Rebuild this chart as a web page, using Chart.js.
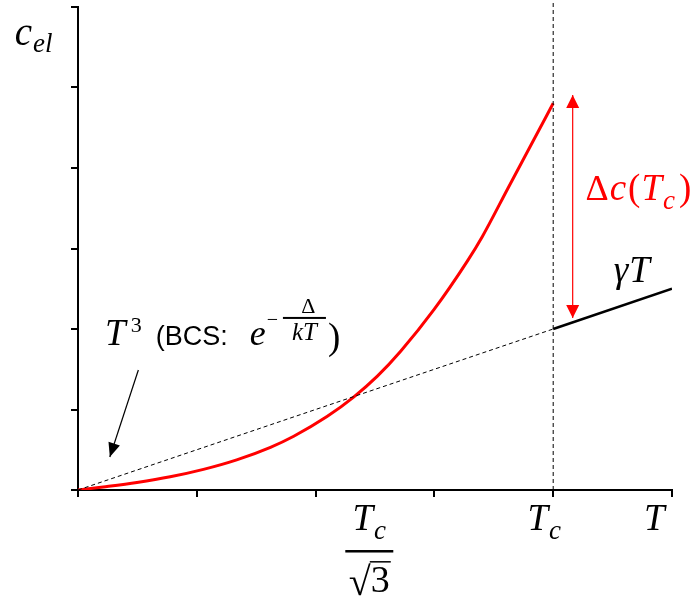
<!DOCTYPE html>
<html>
<head>
<meta charset="utf-8">
<script src="https://cdn.jsdelivr.net/npm/chart.js@4"></script>
<style>
  html, body { margin: 0; padding: 0; background: #fff; }
  canvas { display: block; }
</style>
</head>
<body>
<canvas id="chart" width="696" height="599"></canvas>
<script>
// T in units of Tc, c_el in units of gamma*Tc
const superT = [0, 0.053, 0.124, 0.194, 0.264, 0.334, 0.405, 0.454, 0.524, 0.580, 0.630, 0.679, 0.749, 0.819, 0.851, 0.904, 0.960, 1.0];
const superC = [0, 0.019, 0.047, 0.082, 0.128, 0.187, 0.265, 0.334, 0.456, 0.577, 0.707, 0.862, 1.120, 1.420, 1.575, 1.870, 2.180, 2.402];
const normalT = [0, 1];
const normalC = [0, 1];
const aboveT = [1, 1.25];
const aboveC = [1, 1.25];
const tcT = [1, 1];
const tcC = [0, 3.04];
const jumpT = [1.041, 1.041];
const jumpC = [1.068, 2.453];
const hintT = [0.127, 0.067];
const hintC = [0.745, 0.205];

const SERIF = '"Liberation Serif", "DejaVu Serif", serif';
const SANS = '"Liberation Sans", Arial, sans-serif';
const RED = '#ff0000';

function pts(xs, ys) {
    return xs.map((x, i) => ({ x: x, y: ys[i] }));
}

function drawRuns(ctx, x, y, runs) {
    runs.forEach(r => {
        ctx.font = r.font;
        ctx.fillStyle = r.color || '#000';
        x += r.dx || 0;
        ctx.fillText(r.t, x, y + (r.dy || 0));
        x += ctx.measureText(r.t).width;
    });
    return x;
}

function arrowHead(ctx, fx, fy, tx, ty, len, half, color) {
    const a = Math.atan2(ty - fy, tx - fx);
    ctx.save();
    ctx.translate(tx, ty);
    ctx.rotate(a);
    ctx.beginPath();
    ctx.moveTo(0, 0);
    ctx.lineTo(-len, -half);
    ctx.lineTo(-len, half);
    ctx.closePath();
    ctx.fillStyle = color;
    ctx.fill();
    ctx.restore();
}

// arrow heads and all the math labels
const labels = {
    id: 'labels',
    afterDatasetsDraw(chart) {
        const ctx = chart.ctx;
        const px = v => chart.scales.x.getPixelForValue(v);
        const py = v => chart.scales.y.getPixelForValue(v);
        ctx.save();
        ctx.textBaseline = 'alphabetic';
        ctx.textAlign = 'left';

        arrowHead(ctx, px(jumpT[0]), py(jumpC[0]), px(jumpT[1]), py(jumpC[1]), 13, 6.5, RED);
        arrowHead(ctx, px(jumpT[1]), py(jumpC[1]), px(jumpT[0]), py(jumpC[0]), 13, 6.5, RED);
        arrowHead(ctx, px(hintT[0]), py(hintC[0]), px(hintT[1]), py(hintC[1]), 14, 6, '#000');

        // y axis title
        drawRuns(ctx, px(-0.133), py(2.764), [
            { t: 'c', font: 'italic 39px ' + SERIF },
            { t: 'el', font: 'italic 27px ' + SERIF, dy: 7, dx: 1 }
        ]);

        // T^3 (BCS: e^{-Δ/kT})
        let x = drawRuns(ctx, px(0.057), py(0.901), [
            { t: 'T', font: 'italic 37px ' + SERIF },
            { t: '3', font: '22px ' + SERIF, dy: -13, dx: 5 },
            { t: '(BCS:', font: '27px ' + SANS, dx: 14 },
            { t: 'e', font: 'italic 36px ' + SERIF, dx: 22 },
            { t: '\u2212', font: '20px ' + SERIF, dy: -19, dx: 1 }
        ]);
        const by = py(0.901);
        const fx = x + 5;
        const fw = 43;
        ctx.fillStyle = '#000';
        ctx.fillRect(fx, by - 28, fw, 2);
        ctx.textAlign = 'center';
        ctx.font = '22px ' + SERIF;
        ctx.fillText('\u0394', fx + fw / 2 + 4, by - 32);
        ctx.font = 'italic 25px ' + SERIF;
        ctx.fillText('kT', fx + fw / 2, by - 5);
        ctx.textAlign = 'left';
        ctx.font = '37px ' + SERIF;
        ctx.fillText(')', fx + fw + 2, by + 4);

        // jump label
        drawRuns(ctx, px(1.068), py(1.801), [
            { t: '\u0394', font: '36px ' + SERIF, color: RED },
            { t: 'c', font: 'italic 37px ' + SERIF, color: RED, dx: 1 },
            { t: '(', font: '37px ' + SERIF, color: RED, dx: 2 },
            { t: 'T', font: 'italic 37px ' + SERIF, color: RED, dx: 1 },
            { t: 'c', font: 'italic 27px ' + SERIF, color: RED, dy: 9, dx: 1 },
            { t: ')', font: '37px ' + SERIF, color: RED, dx: 4 }
        ]);

        // normal state line label
        drawRuns(ctx, px(1.1275), py(1.292), [
            { t: '\u03b3', font: 'italic 37px ' + SERIF },
            { t: 'T', font: 'italic 37px ' + SERIF, dx: 1 }
        ]);

        // x axis labels
        drawRuns(ctx, px(0.946), py(-0.248), [
            { t: 'T', font: 'italic 37px ' + SERIF },
            { t: 'c', font: 'italic 27px ' + SERIF, dy: 9, dx: 1 }
        ]);
        drawRuns(ctx, px(1.191), py(-0.248), [
            { t: 'T', font: 'italic 37px ' + SERIF }
        ]);

        // Tc / sqrt(3)
        const cx = px(0.613);
        ctx.font = 'italic 37px ' + SERIF;
        const tw = ctx.measureText('T').width;
        ctx.font = 'italic 27px ' + SERIF;
        const cw = ctx.measureText('c').width;
        drawRuns(ctx, cx - (tw + cw + 1) / 2, py(-0.248), [
            { t: 'T', font: 'italic 37px ' + SERIF },
            { t: 'c', font: 'italic 27px ' + SERIF, dy: 9, dx: 1 }
        ]);
        ctx.fillStyle = '#000';
        ctx.fillRect(cx - 24, py(-0.379) - 1, 48, 2.5);
        ctx.font = '40px ' + SERIF;
        const rw = ctx.measureText('\u221a').width;
        ctx.font = '38px ' + SERIF;
        const dw = ctx.measureText('3').width;
        const sx = cx - (rw + dw) / 2;
        const sb = py(-0.634);
        ctx.font = '40px ' + SERIF;
        ctx.fillText('\u221a', sx, sb + 3);
        ctx.font = '38px ' + SERIF;
        ctx.fillText('3', sx + rw, sb);
        ctx.fillRect(sx + rw - 1, sb - 31, dw + 2, 1.5);
        ctx.restore();
    }
};

new Chart(document.getElementById('chart'), {
    type: 'scatter',
    data: {
        datasets: [
            {
                data: pts(normalT, normalC),
                showLine: true, borderColor: '#000', borderWidth: 1, borderDash: [4, 3],
                pointRadius: 0
            },
            {
                data: pts(tcT, tcC),
                showLine: true, borderColor: '#000', borderWidth: 1, borderDash: [4, 3],
                pointRadius: 0, clip: false
            },
            {
                data: pts(aboveT, aboveC),
                showLine: true, borderColor: '#000', borderWidth: 2.5,
                pointRadius: 0
            },
            {
                data: pts(superT, superC),
                showLine: true, borderColor: RED, borderWidth: 3,
                cubicInterpolationMode: 'monotone',
                pointRadius: 0
            },
            {
                data: pts(jumpT, jumpC),
                showLine: true, borderColor: RED, borderWidth: 1.2,
                pointRadius: 0
            },
            {
                data: pts(hintT, hintC),
                showLine: true, borderColor: '#000', borderWidth: 1.2,
                pointRadius: 0
            }
        ]
    },
    options: {
        responsive: false,
        animation: false,
        devicePixelRatio: 1,
        layout: { padding: { left: 70, right: 24, top: 7, bottom: 101 } },
        plugins: { legend: { display: false }, tooltip: { enabled: false } },
        scales: {
            x: {
                type: 'linear', min: 0, max: 1.25,
                afterFit: s => { s.height = 8; },
                ticks: { display: false, stepSize: 0.25 },
                grid: { drawOnChartArea: false, drawTicks: true, tickLength: 7, color: '#000', lineWidth: 2 },
                border: { display: true, color: '#000', width: 2 }
            },
            y: {
                type: 'linear', min: 0, max: 3,
                afterFit: s => { s.width = 8; },
                ticks: { display: false, stepSize: 0.5 },
                grid: { drawOnChartArea: false, drawTicks: true, tickLength: 7, color: '#000', lineWidth: 2 },
                border: { display: true, color: '#000', width: 2 }
            }
        }
    },
    plugins: [labels]
});
</script>
</body>
</html>
